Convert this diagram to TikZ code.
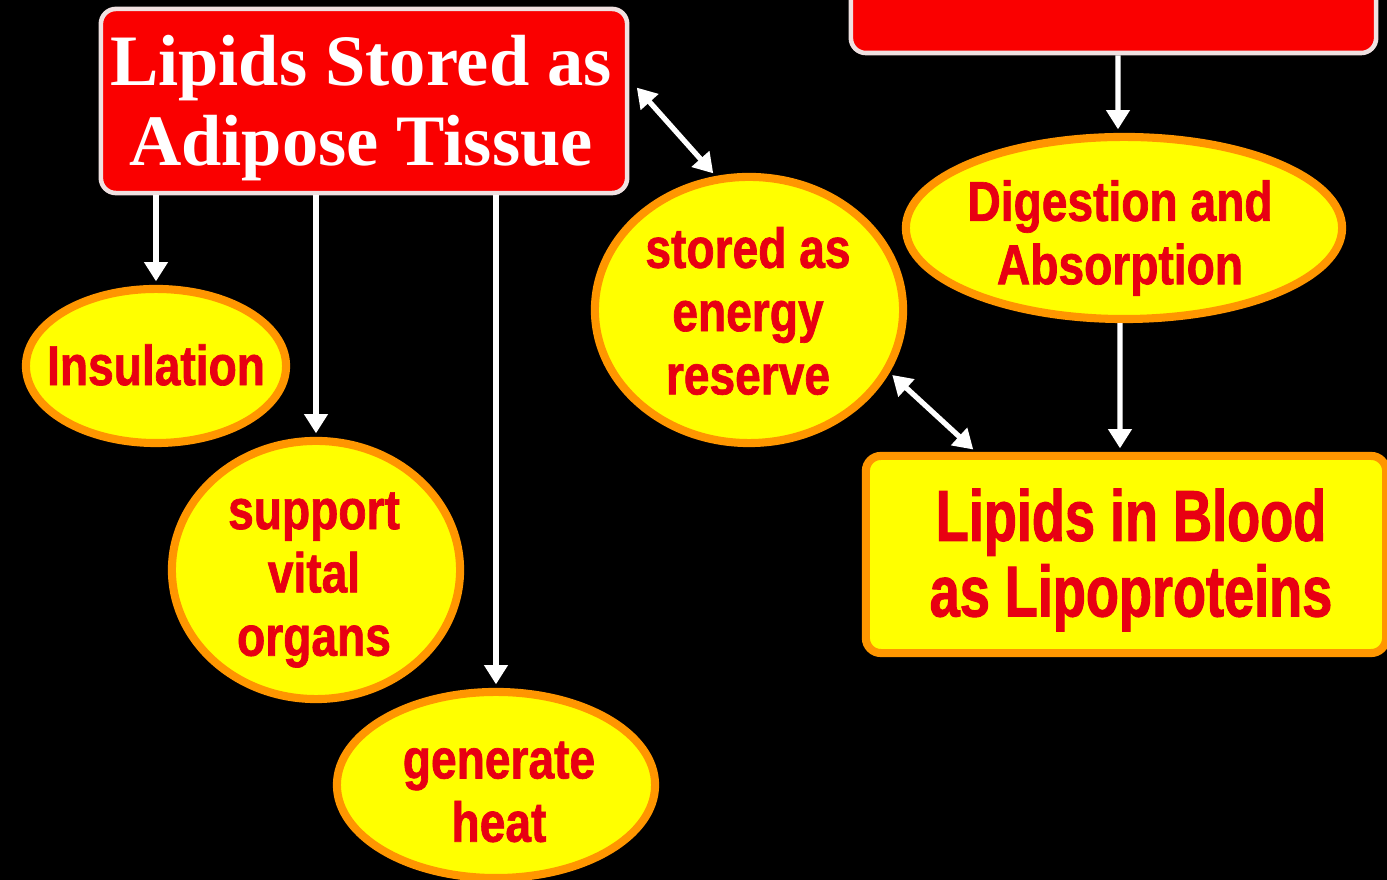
\documentclass[tikz,border=0pt]{standalone}
\usepackage{fontspec}
\setmainfont{Liberation Serif}
\newfontfamily\condfont[FakeStretch=0.82,FakeBold=1.2]{Liberation Sans}
\newfontfamily\condfontb[FakeStretch=0.75,FakeBold=1.4]{Liberation Sans}
\usetikzlibrary{shapes.geometric,arrows.meta}
\definecolor{boxred}{RGB}{250,0,0}
\definecolor{boxline}{RGB}{240,225,225}
\definecolor{ellfill}{RGB}{255,255,0}
\definecolor{elledge}{RGB}{255,150,0}
\definecolor{txtred}{RGB}{232,0,18}
\begin{document}
\begin{tikzpicture}[x=0.01cm,y=-0.01cm,
 redbox/.style={draw=boxline,line width=1.3pt,fill=boxred,rounded corners=0.15cm,inner sep=0pt},
 yelbox/.style={draw=elledge,line width=2.3pt,fill=ellfill,rounded corners=0.15cm,inner sep=0pt},
 yell/.style={ellipse,draw=elledge,line width=2.3pt,fill=ellfill,inner sep=0pt},
 titletxt/.style={text=white,font=\bfseries\fontsize{20.6}{22.7}\selectfont,align=center,inner sep=0pt},
 elltxt/.style={text=txtred,font=\condfont\bfseries\fontsize{16}{18}\selectfont,align=center,inner sep=0pt},
 bigtxt/.style={text=txtred,font=\condfontb\bfseries\fontsize{20.5}{21.5}\selectfont,align=center,inner sep=0pt},
 arr/.style={draw=white,line width=1.5pt,-{Triangle[width=6.5pt,length=5.5pt]},shorten >=1pt},
 dblarr/.style={draw=white,line width=1.5pt,{Triangle[width=6.5pt,length=5.5pt]}-{Triangle[width=6.5pt,length=5.5pt]},shorten >=1pt,shorten <=1pt},
]
\fill[black] (0,0) rectangle (1387,880);
\useasboundingbox (0,0) rectangle (1387,880);
\clip (0,0) rectangle (1387,880);

% shapes
\node[redbox,minimum width=5.26cm,minimum height=1.84cm] (A) at (364,101) {};
\node[redbox,minimum width=5.25cm,minimum height=1.12cm] (T) at (1113.5,-3) {};
\node[yell,minimum width=4.36cm,minimum height=1.82cm] (D) at (1124,228) {};
\node[yelbox,minimum width=5.20cm,minimum height=1.97cm] (L) at (1126,554.5) {};
\node[yell,minimum width=3.08cm,minimum height=2.66cm] (E) at (749,310) {};
\node[yell,minimum width=2.60cm,minimum height=1.54cm] (I) at (156,366) {};
\node[yell,minimum width=2.88cm,minimum height=2.58cm] (S) at (316,570) {};
\node[yell,minimum width=3.18cm,minimum height=1.86cm] (G) at (496,785) {};

% texts
\node[titletxt] (At) at (361,108) {Lipids Stored as\\Adipose Tissue};
\node[elltxt] (It) at (156,365) {Insulation};
\node[elltxt] (St) at (314,580) {support\\vital\\organs};
\node[elltxt] (Gt) at (499,792) {generate\\heat};
\node[elltxt] (Et) at (748,311) {stored as\\energy\\reserve};
\node[elltxt] (Dt) at (1120,238) {Digestion and\\Absorption};
\node[bigtxt] (Lt) at (1131,560) {Lipids in Blood\\as Lipoproteins};

% connectors
\draw[arr] (A.south -| I.north) -- (I.north);
\draw[arr] (A.south -| S.north) -- (S.north);
\draw[arr] (A.south -| G.north) -- (G.north);
\draw[arr] ([xshift=0.045cm]T.south) -- ([xshift=-0.06cm]D.north);
\draw[arr] ([xshift=-0.04cm]D.south) -- ([xshift=-0.06cm]L.north);
\draw[dblarr] ([xshift=0.05cm,yshift=0.16cm]A.east) -- (E.104);
\draw[dblarr] (E.-24) -- ([xshift=1.14cm]L.north west);
\end{tikzpicture}
\end{document}
